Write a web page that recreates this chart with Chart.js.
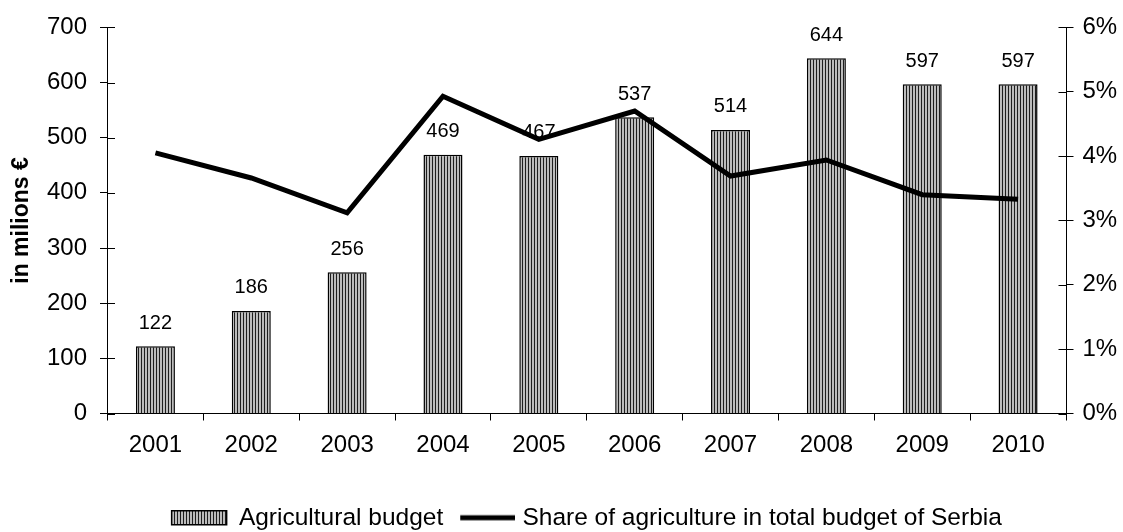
<!DOCTYPE html>
<html>
<head>
<meta charset="utf-8">
<title>Agricultural budget of Serbia 2001-2010</title>
<script src="https://cdn.jsdelivr.net/npm/chart.js@4.4.0/dist/chart.umd.min.js"></script>
<style>
  html, body { margin: 0; padding: 0; background: #fff; overflow: hidden; }
  #wrap { width: 1123px; height: 532px; }
</style>
</head>
<body>
<div id="wrap"><canvas id="budgetChart"></canvas></div>
<script>
const years = ['2001', '2002', '2003', '2004', '2005', '2006', '2007', '2008', '2009', '2010'];
const budget = [122, 186, 256, 469, 467, 537, 514, 644, 597, 597];          // in millions €
const sharePct = [4.05, 3.66, 3.12, 4.93, 4.26, 4.70, 3.69, 3.94, 3.40, 3.33]; // % of total budget

const FONT = "'Liberation Sans', Arial, sans-serif";
Chart.defaults.font.family = FONT;
Chart.defaults.color = '#000';

const canvas = document.getElementById('budgetChart');
const ctx = canvas.getContext('2d');

// vertical hatching for the budget bars
function stripes() {
    const tile = document.createElement('canvas');
    tile.width = 3;
    tile.height = 4;
    const t = tile.getContext('2d');
    t.fillStyle = '#bcbcbc';
    t.fillRect(0, 0, 3, 4);
    t.fillStyle = '#1e1e1e';
    t.fillRect(0, 0, 1, 4);
    return ctx.createPattern(tile, 'repeat');
}
const hatch = stripes();

// legend swatch for the share line, nudged towards its text
function lineSwatch(len, shift, width) {
    const c = document.createElement('canvas');
    c.width = len + 2 * shift;
    c.height = 8;
    const g = c.getContext('2d');
    g.fillStyle = '#000';
    g.fillRect(2 * shift, (8 - width) / 2, len, width);
    return c;
}

// value above each bar
const valueLabels = {
    id: 'valueLabels',
    afterDatasetsDraw(chart) {
        const c = chart.ctx;
        const meta = chart.getDatasetMeta(0);
        c.save();
        c.font = '20px ' + FONT;
        c.fillStyle = '#000';
        c.textAlign = 'center';
        c.textBaseline = 'alphabetic';
        meta.data.forEach((bar, i) => {
            c.fillText(String(budget[i]), bar.x, bar.y - 17.5);
        });
        c.restore();
    }
};

// tick marks on both value axes cross the axis line
const crossTicks = {
    id: 'crossTicks',
    afterDraw(chart) {
        const {ctx: c, scales: {y, y1}} = chart;
        c.save();
        c.strokeStyle = '#000';
        c.lineWidth = 1;
        c.beginPath();
        y.ticks.forEach(t => {
            const py = Math.round(y.getPixelForValue(t.value)) + 0.5;
            c.moveTo(y.right, py);
            c.lineTo(y.right + 7.5, py);
        });
        y1.ticks.forEach(t => {
            const py = Math.round(y1.getPixelForValue(t.value)) + 0.5;
            c.moveTo(y1.left - 7.5, py);
            c.lineTo(y1.left, py);
        });
        c.stroke();
        c.restore();
    }
};

new Chart(ctx, {
    type: 'bar',
    data: {
        labels: years,
        datasets: [{
            type: 'bar',
            label: 'Agricultural budget',
            data: budget,
            backgroundColor: hatch,
            borderColor: '#000',
            borderWidth: 1.5,
            borderSkipped: 'bottom',
            categoryPercentage: 1,
            barPercentage: 0.407,
            yAxisID: 'y',
            order: 1
        }, {
            type: 'line',
            label: 'Share of agriculture in total budget of Serbia',
            data: sharePct,
            borderColor: '#000',
            backgroundColor: '#000',
            borderWidth: 5,
            borderJoinStyle: 'miter',
            pointRadius: 0,
            tension: 0,
            yAxisID: 'y1',
            order: 0
        }]
    },
    options: {
        responsive: true,
        maintainAspectRatio: false,
        animation: false,
        layout: { padding: { top: 25, left: 0, right: 0, bottom: -8 } },
        scales: {
            x: {
                grid: { offset: true, drawOnChartArea: false, color: '#000', tickLength: 7 },
                border: { color: '#000' },
                ticks: { font: { size: 24 }, padding: 10 },
                afterFit(s) { s.height = 80; }
            },
            y: {
                position: 'left',
                min: 0,
                max: 700,
                ticks: { stepSize: 100, font: { size: 24 }, padding: 13 },
                grid: { drawOnChartArea: false, color: '#000', tickLength: 7.5 },
                border: { color: '#000' },
                title: {
                    display: true,
                    text: 'in milions €',
                    font: { size: 23, weight: 'bold' },
                    padding: { top: 8 }
                },
                afterFit(s) { s.width = 107.5; }
            },
            y1: {
                position: 'right',
                min: 0,
                max: 6,
                ticks: { stepSize: 1, font: { size: 24 }, padding: 9, callback: v => v + '%' },
                grid: { drawOnChartArea: false, color: '#000', tickLength: 7.5 },
                border: { color: '#000' },
                afterFit(s) { s.width = 57; }
            }
        },
        plugins: {
            legend: {
                position: 'bottom',
                fullSize: false,
                labels: {
                    font: { size: 24.5 },
                    usePointStyle: true,
                    pointStyleWidth: 55,
                    boxHeight: 14,
                    padding: 12,
                    sort: (a, b) => a.datasetIndex - b.datasetIndex,
                    generateLabels(chart) {
                        const items = Chart.defaults.plugins.legend.labels.generateLabels(chart);
                        items.forEach(it => {
                            it.pointStyle = it.datasetIndex === 0 ? 'rect' : lineSwatch(55, 5, 5);
                        });
                        return items;
                    }
                }
            },
            tooltip: { enabled: false }
        }
    },
    plugins: [valueLabels, crossTicks]
});
</script>
</body>
</html>
